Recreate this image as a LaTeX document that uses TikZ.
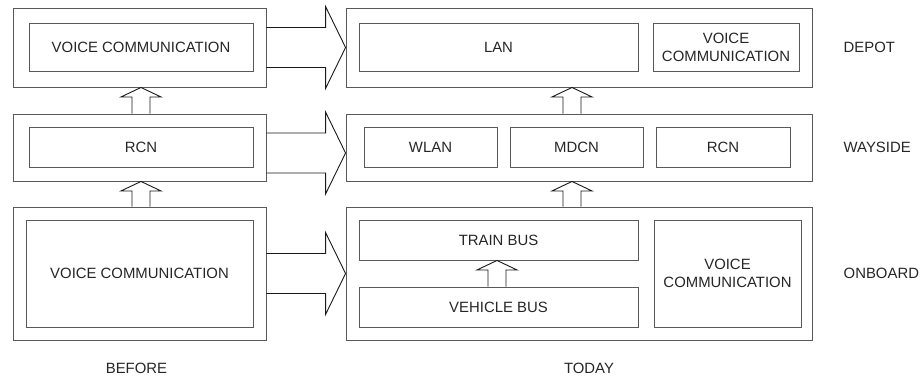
\documentclass[tikz,border=0pt]{standalone}
\usepackage{fontspec}
\setmainfont{Liberation Sans}
\usetikzlibrary{calc}

\begin{document}
\begin{tikzpicture}[x=1pt, y=-1pt,
        every node/.style={font=\fontsize{14.9}{18}\selectfont, text=black!85},
        outerbox/.style={draw=black!65, line width=0.9pt, inner sep=0pt},
        innerbox/.style={draw=black!65, line width=0.9pt, inner sep=0pt, align=center},
        rowlabel/.style={anchor=west, inner sep=0pt},
        blockright/.style={draw=black!90, line width=0.9pt, to path={
            let \p1=(\tikztostart), \p2=(\tikztotarget) in
            (\x1,\y1+20pt) -- (\x2-20pt,\y1+20pt) -- (\x2-20pt,\y1+41pt) -- (\x2,\y1)
            -- (\x2-20pt,\y1-41pt) -- (\x2-20pt,\y1-20pt) -- (\x1,\y1-20pt)}},
        blockup/.style={draw=black!90, line width=0.9pt, to path={
            let \p1=(\tikztostart), \p2=(\tikztotarget) in
            (\x1-9pt,\y1) -- (\x1-9pt,\y2-9.5pt) -- (\x1-20pt,\y2-9.5pt) -- (\x1,\y2)
            -- (\x1+20pt,\y2-9.5pt) -- (\x1+9pt,\y2-9.5pt) -- (\x1+9pt,\y1)}}]

        \useasboundingbox (0,0) rectangle (921,376);

        % ==================== BEFORE ====================
        \node[outerbox, minimum width=253, minimum height=79] (bdepot) at (139.5,47.5) {};
        \node[innerbox, minimum width=224, minimum height=48] (bvoice) at (141,47) {VOICE COMMUNICATION};

        \node[outerbox, minimum width=253, minimum height=67] (bway) at (139.5,147.5) {};
        \node[innerbox, minimum width=224, minimum height=40] (brcn) at (141,147) {RCN};

        \node[outerbox, minimum width=253, minimum height=133] (bonb) at (139.5,273.5) {};
        \node[innerbox, minimum width=227, minimum height=107] (bvoicetwo) at (139.5,273.5) {VOICE COMMUNICATION};

        \draw[blockup] ([xshift=1.5]bway.north) to ([xshift=1.5]bdepot.south);
        \draw[blockup] ([xshift=1.5]bonb.north) to ([xshift=1.5]bway.south);

        % ==================== TODAY ====================
        \node[outerbox, minimum width=466, minimum height=79] (tdepot) at (579,47.5) {};
        \node[innerbox, minimum width=279, minimum height=48] (tlan) at (498.5,47) {LAN};
        \node[innerbox, minimum width=146, minimum height=48] (tvoice) at (726,47) {VOICE\\COMMUNICATION};

        \node[outerbox, minimum width=466, minimum height=67] (tway) at (579,147.5) {};
        \node[innerbox, minimum width=133, minimum height=40] (twlan) at (430.5,147) {WLAN};
        \node[innerbox, minimum width=133, minimum height=40] (tmdcn) at (576.5,147) {MDCN};
        \node[innerbox, minimum width=134, minimum height=40] (trcn) at (723,147) {RCN};

        \node[outerbox, minimum width=466, minimum height=133] (tonb) at (579,273.5) {};
        \node[innerbox, minimum width=279, minimum height=40] (ttrain) at (498.5,240) {TRAIN BUS};
        \node[innerbox, minimum width=279, minimum height=40] (tvehicle) at (498.5,307) {VEHICLE BUS};
        \node[innerbox, minimum width=147, minimum height=107] (tvoicetwo) at (727.5,273.5) {VOICE\\COMMUNICATION};

        \draw[blockup] ([xshift=-7]tway.north) to ([xshift=-7]tdepot.south);
        \draw[blockup] ([xshift=-7]tonb.north) to ([xshift=-7]tway.south);
        \draw[blockup] ([xshift=-1.5]tvehicle.north) to ([xshift=-1.5]ttrain.south);

        % before -> today
        \draw[blockright] (bdepot.east) to (tdepot.west);
        \draw[blockright] ([yshift=-5.5]bway.east) to ([yshift=-5.5]tway.west);
        \draw[blockright] (bonb.east) to (tonb.west);

        % row and column labels
        \node[rowlabel] (depot) at (843.5,47.5) {DEPOT};
        \node[rowlabel] (wayside) at (843.5,147.5) {WAYSIDE};
        \node[rowlabel] (onboard) at (843.5,273.5) {ONBOARD};
        \node (before) at (136.5,368) {BEFORE};
        \node (today) at (589,368) {TODAY};

    \end{tikzpicture}
\end{document}
